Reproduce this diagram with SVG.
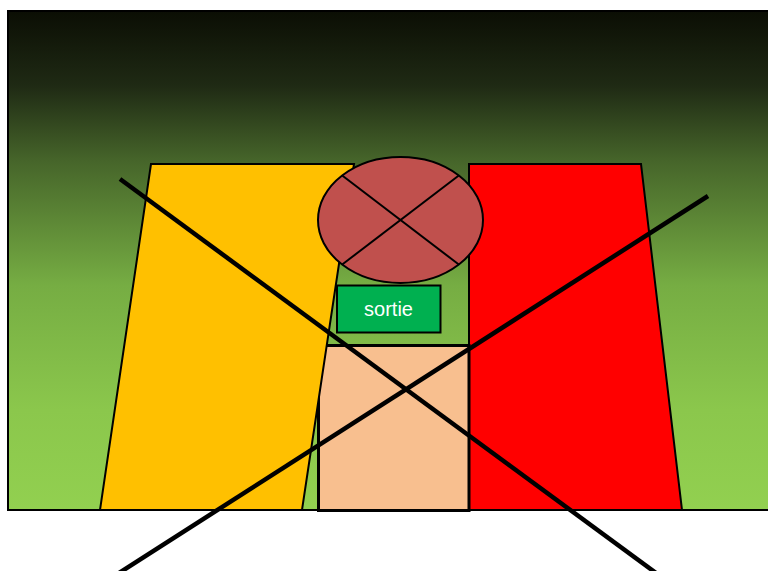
<svg xmlns="http://www.w3.org/2000/svg" width="768" height="571" viewBox="0 0 768 571">
<defs>
<linearGradient id="bg" x1="0" y1="0" x2="0" y2="1">
<stop offset="0" stop-color="#0b0e04"/>
<stop offset="0.15" stop-color="#1f2a14"/>
<stop offset="0.3" stop-color="#46652a"/>
<stop offset="0.55" stop-color="#76ad43"/>
<stop offset="0.8" stop-color="#8bc74c"/>
<stop offset="1" stop-color="#92d050"/>
</linearGradient>
<style>
.s{stroke:#000;stroke-width:2}
.big{stroke:#000;stroke-width:4.5;fill:none}
.t{font-family:"Liberation Sans",Arial,sans-serif;font-size:20px;fill:#fff;text-anchor:middle}
</style>
</defs>
<rect width="768" height="571" fill="#fff"/>
<g id="background"><rect x="8" y="11" width="770" height="499" fill="url(#bg)" stroke="#000" stroke-width="2"/></g>
<g id="red"><polygon class="s" points="469,164 641,164 682,510 469,510" fill="#ff0000"/></g>
<g id="pink"><rect x="318.5" y="345.5" width="150.5" height="165" fill="#f8bf8f" stroke="#000" stroke-width="3"/></g>
<g id="yellow"><polygon class="s" points="151,164 354,164 302,510 100,510" fill="#ffc000"/></g>
<g id="circle">
<ellipse class="s" cx="400.5" cy="220" rx="82.5" ry="63" fill="#c0504d"/>
<line class="s" x1="342.2" y1="175.5" x2="458.8" y2="264.5"/>
<line class="s" x1="458.8" y1="175.5" x2="342.2" y2="264.5"/>
</g>
<g id="sortie">
<rect x="337" y="285.5" width="103.5" height="47" fill="#00b050" stroke="#000" stroke-width="2"/>
<text class="t" x="388.5" y="316">sortie</text>
</g>
<g id="connectors">
<line class="big" x1="120" y1="179" x2="656" y2="573"/>
<line class="big" x1="708" y1="196" x2="119" y2="573"/>
</g>
</svg>
